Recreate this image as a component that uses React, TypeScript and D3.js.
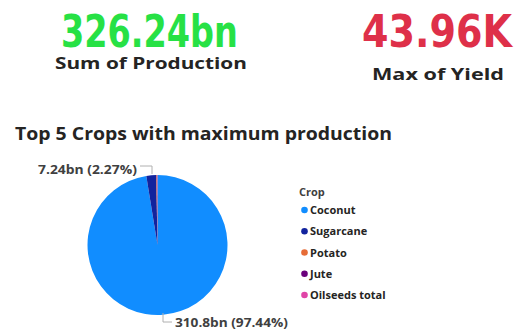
import React, { useLayoutEffect, useRef, useState } from "react";
import * as d3 from "d3";

const crops = ["Coconut", "Sugarcane", "Potato", "Jute", "Oilseeds total"];
const production = [310.8, 7.24, 0.42, 0.29, 0.22];
const colors = ["#118DFF", "#12239E", "#E66C37", "#6B007B", "#E044A7"];
const kpiValues = ["326.24bn", "43.96K"];
const kpiLabels = ["Sum of Production", "Max of Yield"];
const labelTexts = ["310.8bn (97.44%)", "7.24bn (2.27%)"];

function FitText(props: { x: number; y: number; w: number; size: number; family: string; fill: string; children: string }) {
  const ref = useRef<SVGTextElement>(null);
  const [k, setK] = useState(1);
  useLayoutEffect(() => {
    if (ref.current) {
      const nat = ref.current.getComputedTextLength();
      if (nat > 0) setK(props.w / nat);
    }
  }, [props.w, props.children]);
  return (
    <text ref={ref} transform={`translate(${props.x},${props.y}) scale(${k},1)`} fontFamily={props.family}
      fontWeight="bold" fontSize={props.size} fill={props.fill}>{props.children}</text>
  );
}

export default function App() {
  const W = 517, H = 334;
  const cx = 157.5, cy = 245, r = 70;
  const pie = d3.pie<number>().sort(null).value((d) => d)(production);
  const arc = d3.arc<d3.PieArcDatum<number>>().innerRadius(0).outerRadius(r);
  const legendY = d3.scaleLinear().domain([0, 4]).range([210, 295]);
  const numFont = "'DejaVu Sans Condensed', 'DejaVu Sans', sans-serif";
  const txtFont = "'Open Sans', 'Noto Sans', sans-serif";
  return (
    <svg width={W} height={H} style={{ position: "absolute", left: 0, top: 0, background: "#fff" }}>
      <FitText x={61} y={47} w={177} size={45} family={numFont} fill="#27E145">{kpiValues[0]}</FitText>
      <FitText x={55} y={69} w={192} size={16.5} family={txtFont} fill="#252423">{kpiLabels[0]}</FitText>
      <FitText x={362} y={47} w={150} size={45} family={numFont} fill="#DE3049">{kpiValues[1]}</FitText>
      <FitText x={372} y={80} w={132} size={16.5} family={txtFont} fill="#252423">{kpiLabels[1]}</FitText>
      <FitText x={15} y={140} w={377} size={17} family={txtFont} fill="#252423">Top 5 Crops with maximum production</FitText>
      <g transform={`translate(${cx},${cy})`}>
        {pie.map((p, i) => (
          <path key={crops[i]} d={arc(p) || ""} fill={colors[i]} />
        ))}
      </g>
      <polyline points="140,166 152,166 152,174" fill="none" stroke="#b0b0b0" strokeWidth={1} />
      <polyline points="163,313 163,322 172,322" fill="none" stroke="#b0b0b0" strokeWidth={1} />
      <FitText x={38} y={174} w={99} size={11.5} family={txtFont} fill="#404040">{labelTexts[1]}</FitText>
      <FitText x={175} y={327} w={113} size={12.5} family={txtFont} fill="#404040">{labelTexts[0]}</FitText>
      <text x={299} y={196} fontFamily={txtFont} fontWeight="bold" fontSize={11} fill="#404040">Crop</text>
      {crops.map((c, i) => (
        <g key={c}>
          <circle cx={304.5} cy={legendY(i)} r={3.3} fill={colors[i]} />
          <text x={310} y={legendY(i) + 4} fontFamily={txtFont} fontWeight="bold" fontSize={11} fill="#252423">{c}</text>
        </g>
      ))}
    </svg>
  );
}
